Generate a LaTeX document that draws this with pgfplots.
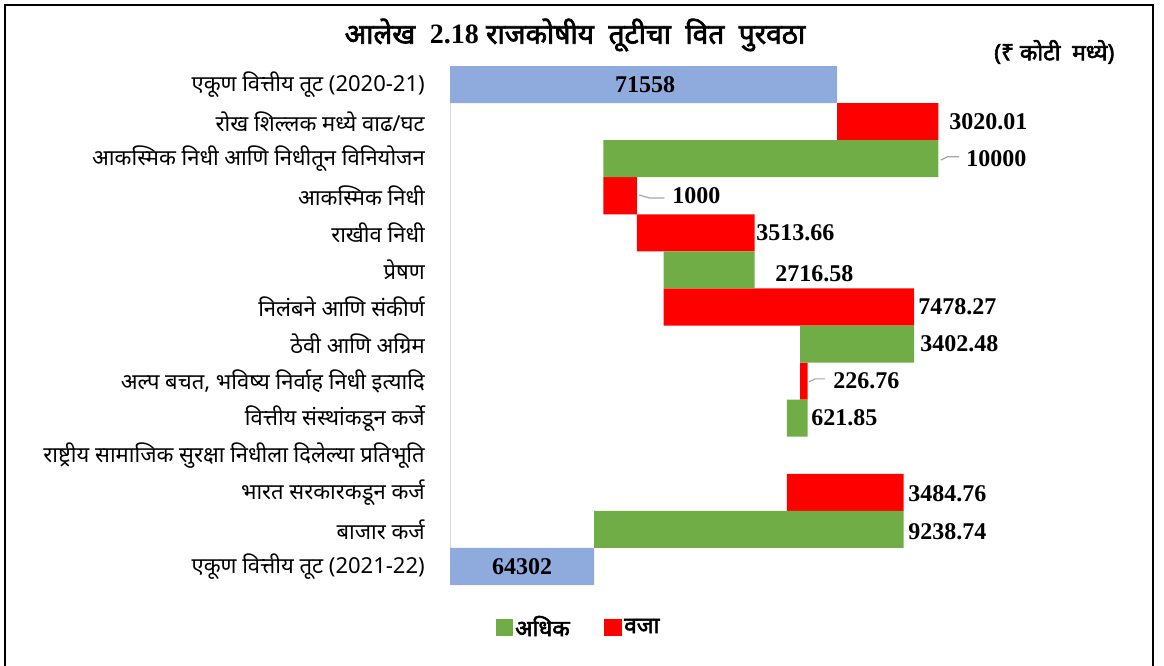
\documentclass[border=0pt]{standalone}
\usepackage{pgfplots}
\pgfplotsset{compat=1.18}
\usepackage{fontspec}
\setmainfont{Noto Sans}[Script=Devanagari]
\newfontfamily\devb[Script=Devanagari, FakeBold=2.5]{Noto Sans}
\newfontfamily\tnr{Liberation Serif}
\definecolor{cblue}{RGB}{143,170,220}
\definecolor{cgreen}{RGB}{112,173,71}
\definecolor{cred}{RGB}{255,0,0}
\definecolor{lead}{RGB}{166,166,166}
\tikzset{lbl/.style={font=\tnr\bfseries\fontsize{18}{20}\selectfont, inner sep=0pt, anchor=west}}
\begin{document}
\begin{tikzpicture}
\path[use as bounding box] (0,0) rectangle (873pt,-499.5pt);
\begin{scope}[x=0.75pt,y=-0.75pt]
\draw[line width=1.5pt] (5,672) -- (5,5) -- (1153,5) -- (1153,672);
\node[font=\devb\fontsize{21}{25}\selectfont] at (575,35) {आलेख\ \ {\tnr\bfseries 2.18} राजकोषीय\ \ तूटीचा\ \ वित\ \ पुरवठा};
\node[font=\devb\fontsize{17}{20}\selectfont, anchor=east] at (1119,52) {(₹ कोटी\ \ मध्ये)};
\end{scope}
\begin{axis}[
 at={(337.5pt,-438.75pt)}, anchor=south west,
 scale only axis, width=525pt, height=389.25pt,
 xmin=60000, xmax=80900, ymin=0.5, ymax=14.5, y dir=reverse,
 xbar stacked, bar width=1,
 axis x line=none, axis y line*=left,
 every outer y axis line/.append style={-},
 y axis line style={draw=black!15, line width=0.75pt},
 ytick={1,...,14},
 yticklabels={एकूण वित्तीय तूट (2020-21), रोख शिल्लक मध्ये वाढ/घट, आकस्मिक निधी आणि निधीतून विनियोजन, आकस्मिक निधी, राखीव निधी, प्रेषण, निलंबने आणि संकीर्ण, ठेवी आणि अग्रिम, {अल्प बचत, भविष्य निर्वाह निधी इत्यादि}, वित्तीय संस्थांकडून कर्जे, राष्ट्रीय सामाजिक सुरक्षा निधीला दिलेल्या प्रतिभूति, भारत सरकारकडून कर्ज, बाजार कर्ज, एकूण वित्तीय तूट (2021-22)},
 major tick length=0pt,
 yticklabel style={font=\fontsize{16.5}{19}\selectfont, anchor=east, inner sep=0pt, xshift=-18.75pt},
 legend columns=2,
 legend style={at={(axis description cs:0.184,-0.081)}, anchor=center, draw=none, fill=none,
   font=\devb\fontsize{17}{20}\selectfont,
   /tikz/every even column/.append style={column sep=24pt}},
 after end axis/.code={
   \draw[lead, line width=0.9pt] (axis cs:74650,3.04) -- (axis cs:74850,2.95) -- (axis cs:75200,2.95);
   \draw[lead, line width=0.9pt] (axis cs:65650,3.98) -- (axis cs:65950,4.06) -- (axis cs:66400,4.06);
   \draw[lead, line width=0.9pt] (axis cs:70720,9.02) -- (axis cs:70900,8.94) -- (axis cs:71200,8.94);
   \node[lbl, anchor=center] at (axis cs:65822,1) {71558};
   \node[lbl] at (axis cs:74899,2) {3020.01};
   \node[lbl] at (axis cs:75406,3) {10000};
   \node[lbl] at (axis cs:66628,4) {1000};
   \node[lbl] at (axis cs:69136,5) {3513.66};
   \node[lbl] at (axis cs:69704,6.1) {2716.58};
   \node[lbl] at (axis cs:73973,7) {7478.27};
   \node[lbl] at (axis cs:74033,8) {3402.48};
   \node[lbl] at (axis cs:71435,9) {226.76};
   \node[lbl] at (axis cs:70778,10) {621.85};
   \node[lbl] at (axis cs:73674,12.05) {3484.76};
   \node[lbl] at (axis cs:73674,13.05) {9238.74};
   \node[lbl, anchor=center] at (axis cs:62150,14) {64302};
 },
]
\addplot[forget plot, draw=none, fill=none] coordinates {(0,1) (71558,2) (64578.01,3) (64578.01,4) (65578.01,5) (66375.09,6) (66375.09,7) (70450.88,8) (70450.88,9) (70055.79,10) (70055.79,11) (70055.79,12) (64301.81,13) (0,14)};
\addplot[forget plot, draw=none, fill=cblue] coordinates {(71558,1) (0,2) (0,3) (0,4) (0,5) (0,6) (0,7) (0,8) (0,9) (0,10) (0,11) (0,12) (0,13) (64302,14)};
\addplot[draw=none, fill=cgreen, legend image code/.code={\fill[cgreen] (0pt,-6.4pt) rectangle (12.8pt,6.4pt);}] coordinates {(0,1) (0,2) (10000,3) (0,4) (0,5) (2716.58,6) (0,7) (3402.48,8) (0,9) (621.85,10) (0,11) (0,12) (9238.74,13) (0,14)};
\addlegendentry{अधिक}
\addplot[draw=none, fill=cred, legend image code/.code={\fill[cred] (0pt,-6.4pt) rectangle (12.8pt,6.4pt);}] coordinates {(0,1) (3020.01,2) (0,3) (1000,4) (3513.66,5) (0,6) (7478.27,7) (0,8) (226.76,9) (0,10) (0,11) (3484.76,12) (0,13) (0,14)};
\addlegendentry{वजा}
\end{axis}
\end{tikzpicture}
\end{document}
